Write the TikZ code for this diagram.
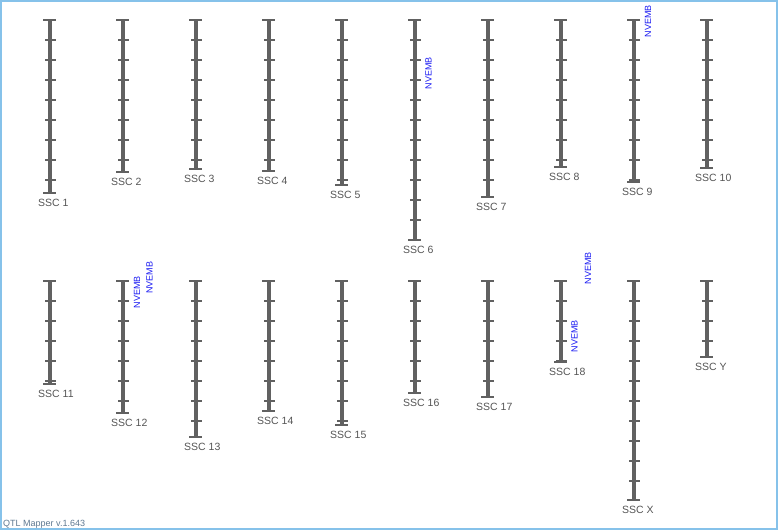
\documentclass[tikz,border=0pt]{standalone}
\usepackage{fontspec}
\setmainfont{Liberation Sans}
\usepackage{xcolor}
\usepackage{tikz}
\usetikzlibrary{positioning,calc}

\definecolor{chrgray}{HTML}{616161}
\definecolor{lblgray}{HTML}{555555}
\definecolor{frameblue}{HTML}{86C2EA}
\definecolor{qtlblue}{HTML}{1A1AF2}
\definecolor{verblue}{HTML}{5E7891}

\begin{document}
\begin{tikzpicture}[x=1pt,y=-1pt,
		chrbar/.style={chrgray, line width=4pt},
		chrcap/.style={chrgray, line width=1.7pt},
		chrtick/.style={chrgray, line width=1.1pt},
		chrlabel/.style={lblgray, inner sep=0, anchor=base west, font=\fontsize{10.5}{12}\selectfont},
		qtllabel/.style={qtlblue, inner sep=0, rotate=90, font=\fontsize{9}{10}\selectfont}]
	\useasboundingbox (0,0) rectangle (778,530);
	\draw[frameblue, line width=1.6pt] (0.8,0.8) rectangle (777.2,529.2);
	% chromosomes: name/x/top/bottom
	\foreach \n/\x/\tp/\b in {1/49.5/20/193, 2/122.5/20/172, 3/195.5/20/169, 4/268.5/20/171, 5/341.5/20/185,
			6/414.5/20/240, 7/487.5/20/197, 8/560.5/20/167, 9/633.5/20/182, 10/706.5/20/168,
			11/49.5/281/384, 12/122.5/281/413, 13/195.5/281/437, 14/268.5/281/411, 15/341.5/281/425,
			16/414.5/281/393, 17/487.5/281/397, 18/560.5/281/362, X/633.5/281/500, Y/706.5/281/357} {
		\coordinate (top\n) at (\x,\tp);
		\coordinate (bot\n) at (\x,\b);
		\draw[chrbar] (top\n) -- (bot\n);
		\pgfmathsetmacro{\tfirst}{\tp+20}
		\pgfmathsetmacro{\tsecond}{\tp+40}
		\foreach \t in {\tfirst,\tsecond,...,\b}
			\draw[chrtick] ($(top\n)+(-4.5,\t-\tp)$) -- ($(top\n)+(6,\t-\tp)$);
		\draw[chrcap] ($(top\n)+(-6.5,0)$) -- ($(top\n)+(6.5,0)$);
		\draw[chrcap] ($(bot\n)+(-6.5,0)$) -- ($(bot\n)+(6.5,0)$);
		\node[chrlabel] (ssc\n) at ($(bot\n)+(-11.5,13.5)$) {SSC \n};
	}
	% QTL markers
	\node[qtllabel] (qtl6) at (428.5,73) {NVEMB};
	\node[qtllabel] (qtl9) at (648,21) {NVEMB};
	\node[qtllabel] (qtl12a) at (137,292) {NVEMB};
	\node[qtllabel] (qtl12b) at (149.5,277.5) {NVEMB};
	\node[qtllabel] (qtl18a) at (588,268) {NVEMB};
	\node[qtllabel] (qtl18b) at (574.5,336) {NVEMB};
	\node[verblue, inner sep=0, anchor=base west, font=\fontsize{9}{10}\selectfont] (version) at (3,526) {QTL Mapper v.1.643};
\end{tikzpicture}
\end{document}
